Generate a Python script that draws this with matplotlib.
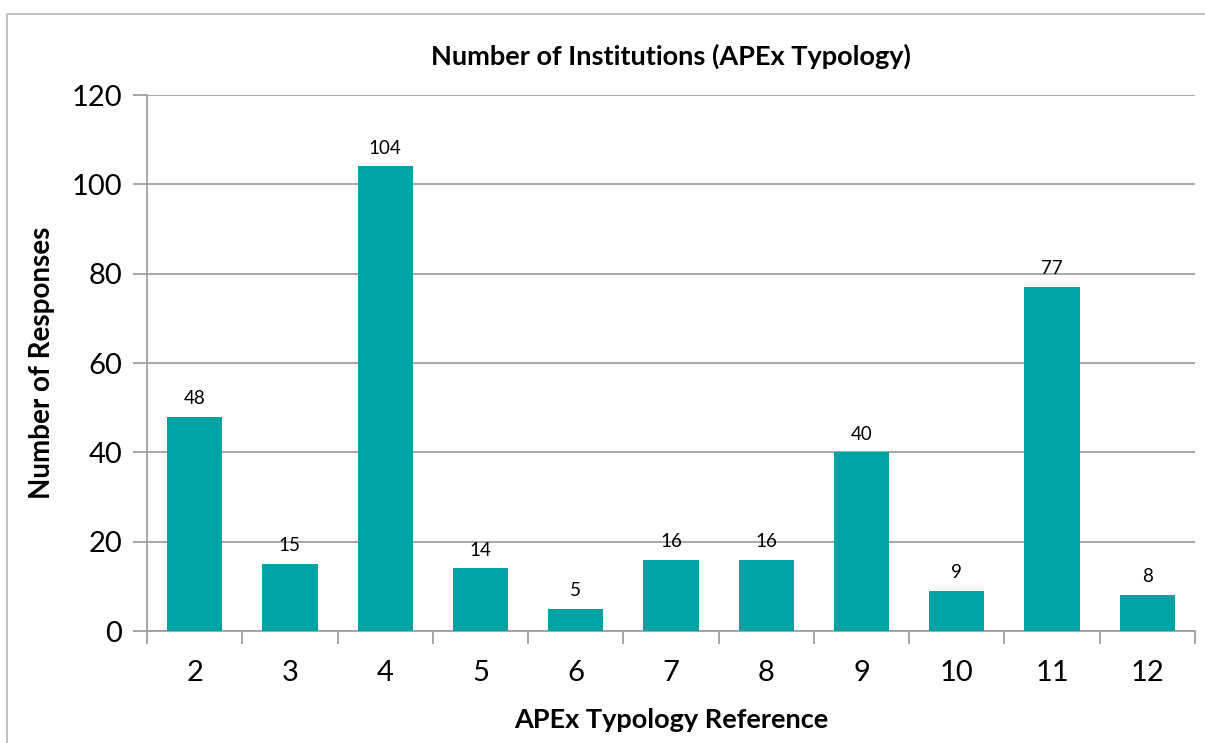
import matplotlib.pyplot as plt
from matplotlib.patches import Rectangle

plt.rcParams['font.family'] = ['Lato', 'DejaVu Sans']

typology = ['2', '3', '4', '5', '6', '7', '8', '9', '10', '11', '12']
responses = [48, 15, 104, 14, 5, 16, 16, 40, 9, 77, 8]

fig = plt.figure(figsize=(12.05, 7.43), dpi=100)
ax = fig.add_axes([147 / 1205, 1 - 631 / 743, (1195 - 147) / 1205, (631 - 95) / 743])

# outer chart frame (runs off the right and bottom edges)
fig.patches.append(Rectangle((7 / 1205, -0.01), 1.1, 1 - 14 / 743 + 0.01,
                             transform=fig.transFigure, fill=False,
                             edgecolor='#b8b8b8', linewidth=1.2))

x = list(range(len(typology)))
bars = ax.bar(x, responses, width=0.58, color='#00a3a3', zorder=3)
for xi, v in zip(x, responses):
    ax.text(xi, v + 2.2, str(v), ha='center', va='bottom', fontsize=13.5)

ax.set_xlim(-0.5, len(typology) - 0.5)
ax.set_ylim(0, 120)
ax.set_yticks(range(0, 121, 20))
ax.set_xticks([i - 0.5 for i in range(len(typology) + 1)], minor=False)
ax.set_xticklabels([])
ax.set_xticks(x, minor=True)
ax.set_xticklabels(typology, minor=True, fontsize=21)
ax.tick_params(axis='x', which='minor', length=0, pad=21)
ax.tick_params(axis='x', which='major', length=9, color='#a0a0a0', width=1.3)
ax.tick_params(axis='y', length=10, color='#a0a0a0', width=1.3, labelsize=21, pad=8)

ax.yaxis.grid(True, color='#a0a0a0', linewidth=1.3, zorder=0)
ax.set_axisbelow(True)
for s in ['top', 'right']:
    ax.spines[s].set_visible(False)
for s in ['left', 'bottom']:
    ax.spines[s].set_color('#a0a0a0')
    ax.spines[s].set_linewidth(1.3)

ax.set_title('Number of Institutions (APEx Typology)', fontsize=19.5, fontweight='bold', pad=22)
ax.set_ylabel('Number of Responses', fontsize=20, fontweight='bold', labelpad=12)
ax.set_xlabel('APEx Typology Reference', fontsize=19.5, fontweight='bold', labelpad=16)

fig.savefig('out.png', dpi=100)
